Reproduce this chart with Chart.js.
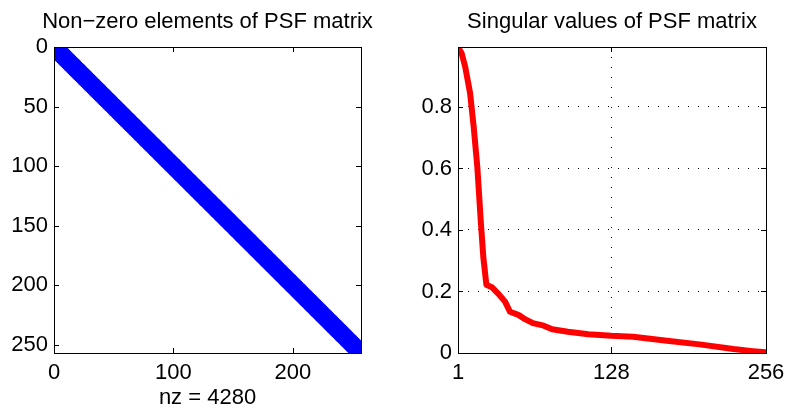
<!DOCTYPE html>
<html>
<head>
<meta charset="utf-8">
<script src="https://cdn.jsdelivr.net/npm/chart.js@4.4.0/dist/chart.umd.min.js"></script>
<style>
  body { margin: 0; background: #fff; overflow: hidden; }
  #wrap { position: relative; width: 788px; height: 410px; overflow: hidden; }
  canvas { position: absolute; top: 0; }
</style>
</head>
<body>
<div id="wrap">
  <canvas id="spyChart" width="415" height="410" style="left:0"></canvas>
  <canvas id="svdChart" width="404" height="410" style="left:410px"></canvas>
</div>
<script>
// banded PSF matrix: 256x256, |i-j| <= 8  ->  nz = 4280
const matrixSize = 256;
const bandHalfWidth = 8;
const spyXTicks = [0, 100, 200];
const spyYTicks = [0, 50, 100, 150, 200, 250];

// singular values
const svIndex  = [1, 4, 7, 11, 14, 17, 20, 22, 24.5, 29, 34, 40, 44, 51, 56.5, 63, 72, 79, 92, 109, 128, 146, 174, 201, 229, 245, 256];
const svValues = [0.995, 0.975, 0.93, 0.845, 0.735, 0.605, 0.42, 0.31, 0.222, 0.214, 0.194, 0.167, 0.134, 0.124, 0.110, 0.097, 0.089, 0.077, 0.069, 0.061, 0.056, 0.053, 0.040, 0.028, 0.013, 0.006, 0.002];
const svXTicks = [1, 128, 256];
const svYTicks = [0, 0.2, 0.4, 0.6, 0.8];

Chart.defaults.font.family = "'Liberation Sans', Arial, sans-serif";
Chart.defaults.font.size = 22;
Chart.defaults.color = '#000';

// nonzero pattern of the band
let spyPoints = [];
for (let i = 1; i <= matrixSize; i++) {
    for (let j = Math.max(1, i - bandHalfWidth); j <= Math.min(matrixSize, i + bandHalfWidth); j++) {
        spyPoints.push({x: j, y: i});
    }
}

// matlab style box with ticks pointing inward
const boxTicks = {
    id: 'boxTicks',
    afterDraw(chart) {
        const {ctx, chartArea: a, scales} = chart;
        const len = 5;
        ctx.save();
        ctx.strokeStyle = '#000';
        ctx.lineWidth = 1;
        ctx.beginPath();
        scales.x.ticks.forEach(t => {
            let px = Math.round(scales.x.getPixelForValue(t.value)) + 0.5;
            ctx.moveTo(px, a.bottom); ctx.lineTo(px, a.bottom - len);
            ctx.moveTo(px, a.top); ctx.lineTo(px, a.top + len);
        });
        scales.y.ticks.forEach(t => {
            let py = Math.round(scales.y.getPixelForValue(t.value)) + 0.5;
            ctx.moveTo(a.left, py); ctx.lineTo(a.left + len, py);
            ctx.moveTo(a.right, py); ctx.lineTo(a.right - len, py);
        });
        ctx.stroke();
        ctx.strokeRect(Math.round(a.left) + 0.5, Math.round(a.top) + 0.5,
                       Math.round(a.right - a.left), Math.round(a.bottom - a.top));
        ctx.restore();
    }
};

function fixTicks(list) {
    return scale => { scale.ticks = list.map(v => ({value: v})); };
}

const titleOpts = text => ({
    display: true,
    text: text,
    font: {size: 22, weight: 'normal'},
    color: '#000',
    padding: {top: 9, bottom: 11.6}
});

// empty axis on the right, only to keep the title centred over the box
const spacer = w => ({
    position: 'right', display: true,
    afterFit: s => { s.width = w; },
    grid: {display: false, drawTicks: false},
    border: {display: false},
    ticks: {display: false}
});

new Chart(document.getElementById('spyChart'), {
    type: 'scatter',
    data: {
        datasets: [{
            data: spyPoints,
            backgroundColor: '#0000ff',
            borderWidth: 0,
            pointRadius: 2.2,
            pointHoverRadius: 2.2,
            clip: 0
        }]
    },
    options: {
        responsive: false,
        animation: false,
        events: [],
        layout: {padding: 0},
        plugins: {
            legend: {display: false},
            tooltip: {enabled: false},
            title: titleOpts('Non\u2212zero elements of PSF matrix')
        },
        scales: {
            x: {
                type: 'linear', min: 0, max: matrixSize + 1,
                afterBuildTicks: fixTicks(spyXTicks),
                afterFit: s => { s.height = 57; },
                grid: {display: false, drawTicks: false},
                border: {display: false},
                ticks: {padding: 7, maxRotation: 0},
                title: {display: true, text: 'nz = ' + spyPoints.length, font: {size: 22, lineHeight: 1}, padding: {top: 0, bottom: 1}}
            },
            y: {
                type: 'linear', min: 0, max: matrixSize + 1, reverse: true,
                afterBuildTicks: fixTicks(spyYTicks),
                afterFit: s => { s.width = 54; },
                grid: {display: false, drawTicks: false},
                border: {display: false},
                ticks: {padding: 6}
            },
            yRight: spacer(54)
        }
    },
    plugins: [boxTicks]
});

new Chart(document.getElementById('svdChart'), {
    type: 'scatter',
    data: {
        datasets: [{
            data: svIndex.map((x, k) => ({x: x, y: svValues[k]})),
            showLine: true,
            borderColor: '#ff0000',
            borderWidth: 6,
            borderJoinStyle: 'round',
            pointRadius: 0,
            tension: 0,
            clip: 0
        }]
    },
    options: {
        responsive: false,
        animation: false,
        events: [],
        layout: {padding: 0},
        plugins: {
            legend: {display: false},
            tooltip: {enabled: false},
            title: titleOpts('Singular values of PSF matrix')
        },
        scales: {
            x: {
                type: 'linear', min: 1, max: matrixSize,
                afterBuildTicks: fixTicks(svXTicks),
                afterFit: s => { s.height = 57; },
                grid: {color: '#000', lineWidth: 1, drawTicks: false},
                border: {display: false, dash: [1, 9]},
                ticks: {padding: 7, maxRotation: 0}
            },
            y: {
                type: 'linear', min: 0, max: 0.995,
                afterBuildTicks: fixTicks(svYTicks),
                afterFit: s => { s.width = 48; },
                grid: {color: '#000', lineWidth: 1, drawTicks: false},
                border: {display: false, dash: [1, 9]},
                ticks: {padding: 6}
            },
            yRight: spacer(48)
        }
    },
    plugins: [boxTicks]
});
</script>
</body>
</html>
